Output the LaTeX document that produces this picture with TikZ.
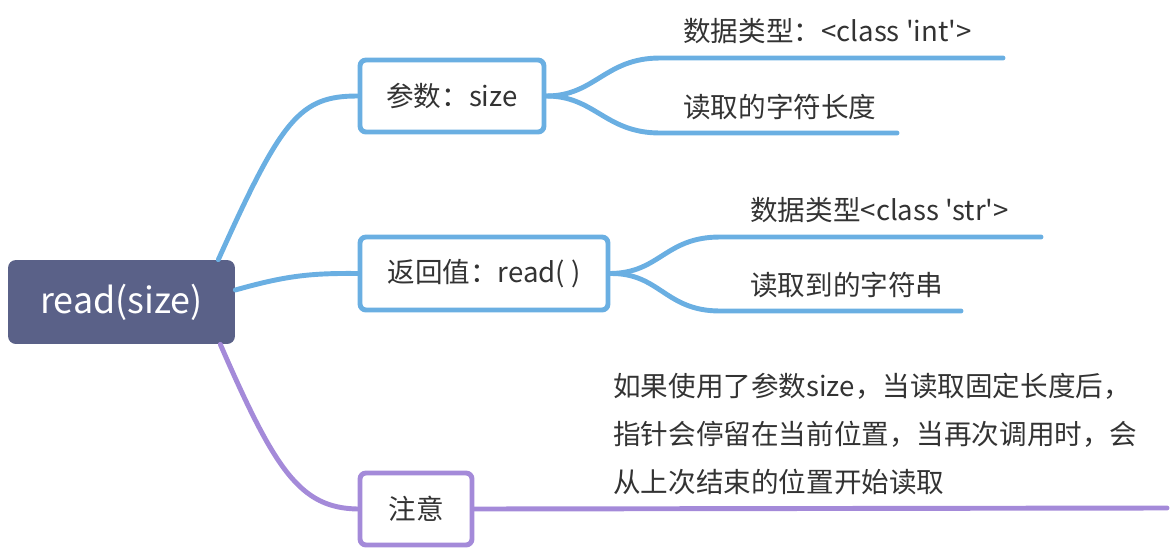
\documentclass[tikz,border=0pt]{standalone}
\usepackage{fontspec}
\setmainfont{Noto Sans CJK SC}[Ligatures=TeXOff]
\definecolor{rootfill}{HTML}{5A6188}
\definecolor{linkblue}{HTML}{6AAFE2}
\definecolor{linkpurple}{HTML}{A48AD9}
\definecolor{testo}{HTML}{333333}
\begin{document}
\begin{tikzpicture}[x=0.02cm, y=-0.02cm,
    rootbox/.style={fill=rootfill, rounded corners=4.5pt, minimum width=4.54cm,
        minimum height=1.68cm, text=white, font=\fontsize{20.4}{24}\selectfont},
    topicbox/.style={draw=#1, fill=white, line width=2.8pt, rounded corners=3.4pt,
        minimum height=1.44cm, text=testo, font=\fontsize{15.7}{20}\selectfont},
    leaftext/.style={anchor=west, inner sep=0pt, text=testo, font=\fontsize{15.7}{20}\selectfont},
    link/.style={draw=#1, line width=2.8pt, line cap=round}]
        % Margini
        \useasboundingbox (0, 0) rectangle (1174, 548);

        % Nodo centrale e argomenti
        \node[rootbox] (root) at (121.5, 302) {read(size)};
        \node[topicbox=linkblue, minimum width=3.68cm] (param) at (452, 96) {参数：size};
        \node[topicbox=linkblue, minimum width=4.96cm, minimum height=1.46cm] (retval) at (484, 273.5) {返回值：read( )};
        \node[topicbox=linkpurple, minimum width=2.24cm] (note) at (416, 509) {注意};

        % Rami dal nodo centrale
        \draw[link=linkblue] ([xshift=-0.34cm]root.north east) .. controls (282, 118) and (300, 96) .. (param.west);
        \draw[link=linkblue] ([yshift=0.24cm]root.east) .. controls (285, 276) and (310, 273) .. (retval.west);
        \draw[link=linkpurple] ([xshift=-0.3cm]root.south east) .. controls (275, 470) and (300, 508) .. (note.west);

        % Estremi dei rami foglia
        \coordinate (a1) at (660, 58);   \coordinate (a1e) at (1003, 58);
        \coordinate (a2) at (660, 133);  \coordinate (a2e) at (897, 133);
        \coordinate (b1) at (720, 237);  \coordinate (b1e) at (1041, 237);
        \coordinate (b2) at (720, 311);  \coordinate (b2e) at (961, 311);
        \coordinate (c1e) at (1167, 508);

        \draw[link=linkblue] (param.east) .. controls (595, 96) and (605, 58) .. (a1) -- (a1e);
        \draw[link=linkblue] (param.east) .. controls (595, 96) and (605, 133) .. (a2) -- (a2e);
        \draw[link=linkblue] (retval.east) .. controls (660, 273) and (665, 237) .. (b1) -- (b1e);
        \draw[link=linkblue] (retval.east) .. controls (660, 273) and (665, 311) .. (b2) -- (b2e);
        \draw[link=linkpurple] (note.east) -- (c1e);

        % Testi delle foglie
        \node[leaftext] (a1t) at (683, 31) {数据类型：<class 'int'>};
        \node[leaftext] (a2t) at (683, 107) {读取的字符长度};
        \node[leaftext] (b1t) at (750, 210) {数据类型<class 'str'>};
        \node[leaftext] (b2t) at (750, 285) {读取到的字符串};
        \node[leaftext, align=left, font=\fontsize{15.7}{27.2}\selectfont] (c1t) at (613, 434)
            {如果使用了参数size，当读取固定长度后，\\ 指针会停留在当前位置，当再次调用时，会\\ 从上次结束的位置开始读取};

    \end{tikzpicture}
\end{document}
